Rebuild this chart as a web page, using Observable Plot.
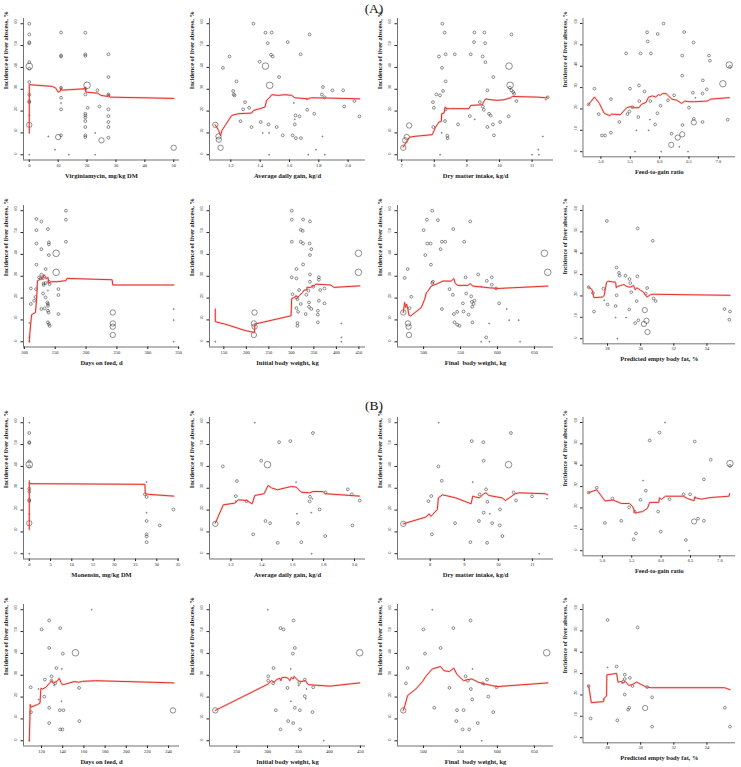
<!DOCTYPE html>
<html><head><meta charset="utf-8">
<script src="https://cdn.jsdelivr.net/npm/d3@7"></script>
<script src="https://cdn.jsdelivr.net/npm/@observablehq/plot@0.6"></script>
<style>
html,body{margin:0;padding:0;background:#fff;overflow:hidden;}
#wrap{position:relative;width:741px;height:767px;font-family:"Liberation Serif",serif;color:#111;}
.hdr{position:absolute;width:100px;text-align:center;font-size:13.5px;line-height:1;}
.panel{position:absolute;}
</style></head><body><div id="wrap">
<div class="hdr" style="left:324px;top:2px">(A)</div>
<div class="hdr" style="left:324px;top:399px">(B)</div>
</div>
<script>
// ---------- shared ----------
const yTicks = [0, 10, 20, 30, 40, 50, 60];
const yLabel = "Incidence of liver abscess, %";
const sectionLabels = ["(A)", "(B)"];

// ---------- x labels ----------
const xLabelsA = ["Virginiamycin, mg/kg DM", "Average daily gain, kg/d", "Dry matter intake, kg/d", "Feed-to-gain ratio",
  "Days on feed, d", "Initial body weight, kg", "Final  body weight, kg", "Predicted empty body fat, %"];
const xLabelsB = ["Monensin, mg/kg DM", "Average daily gain, kg/d", "Dry matter intake, kg/d", "Feed-to-gain ratio",
  "Days on feed, d", "Initial body weight, kg", "Final  body weight, kg", "Predicted empty body fat, %"];

// ---------- x tick values ----------
const vmTicks = [0, 10, 20, 30, 40, 50];
const monTicks = [0, 5, 10, 15, 20, 25, 30, 35];
const adgTicks = [1.2, 1.4, 1.6, 1.8, 2.0];
const dmiTicksA = [7, 8, 9, 10, 11];
const dmiTicksB = [8, 9, 10, 11];
const fgTicks = [5.0, 5.5, 6.0, 6.5, 7.0];
const dofTicksA = [100, 150, 200, 250, 300, 350];
const dofTicksB = [120, 140, 160, 180, 200, 220, 240];
const ibwTicksA = [150, 200, 250, 300, 350, 400, 450];
const ibwTicksB = [250, 300, 350, 400, 450];
const fbwTicks = [500, 550, 600, 650];
const ebfTicks = [28, 30, 32, 34];

// ---------- (A) points [x, incidence %, study weight] and fitted lines [x, incidence %] ----------
const vmA = [[0,60,110],[0,55.1,110],[0,51.5,110],[0,51,110],[0,42.4,110],[0,40.5,600],[0,39.4,110],[0,33.3,110],[0,27.5,110],[0,24.5,110],[0,24.1,110],[0,18,15],[0,13.7,400],[0,10,15],[0,0,15],
[6.6,8.4,15],[8.9,2.3,15],[10,8.1,400],[11,56,110],[11,45.5,110],[11,45,110],[11,30.7,110],[11,26.1,110],[11,23.7,15],[11,20.8,110],[11,8.9,110],[13.7,0,15],
[19.4,55.9,110],[19.4,46,110],[19.4,45.3,110],[19.4,30.2,110],[19.4,27.6,110],[19.4,18.8,110],[19.4,18,110],[19.4,17,110],[19.4,15.4,110],[19.4,12.7,110],[19.4,8.9,110],[19.4,8.1,110],[20,31.8,600],[20.2,21.5,110],[22.8,10,15],[22.8,0,15],[23.6,29.5,110],[24.3,22.1,110],[25,6.6,400],
[27.4,46,110],[27.4,35.6,110],[27.4,27.6,110],[27.4,27.2,110],[27.4,20.8,110],[27.4,17.7,110],[27.4,15,110],[27.4,12.7,110],[27.4,7.8,110],[50,3.2,400]];
const vmALine = [[0,10.4],[0,32.1],[8,31.3],[9.2,30.5],[10,28.7],[10.7,29],[11,30.8],[11.2,29.6],[19,30.2],[19.4,31],[19.6,28.7],[23.6,28.2],[24.8,27.2],[27.1,26.7],[27.4,27.5],[27.9,26.4],[50,25.8]];

const adgA = [[1.354,60,110],[1.436,55.9,110],[1.479,56,110],[1.452,51.1,110],[1.588,51.6,110],[1.737,55.1,110],[1.191,45,110],[1.397,42.6,110],[1.474,45.8,110],[1.486,45,110],[1.676,46,110],[1.146,39.8,110],[1.436,40.6,600],[1.465,31.8,600],[1.529,35.6,110],[1.239,33.6,110],[1.216,29.2,110],[1.22,27.6,110],[1.225,27.2,110],[1.297,24.1,110],[1.284,20.8,110],[1.325,21.5,110],[1.266,15.4,110],[1.404,15,110],[1.341,12.7,110],[1.457,13.9,110],[1.513,12.7,110],[1.554,8.9,110],[1.418,10,15],[1.461,10,15],[1.461,0,15],[1.094,13.7,400],[1.116,8.4,400],[1.118,6.9,400],[1.13,3.2,400],[1.63,23.7,15],[1.641,18,110],[1.636,16.2,15],[1.636,13.9,110],[1.669,17.6,110],[1.622,8.9,110],[1.644,7.6,110],[1.678,7.6,110],[1.719,25.3,15],[1.721,20.6,110],[1.769,18.8,110],[1.728,0,15],[1.78,2.3,15],[1.821,27.6,110],[1.828,31,110],[1.839,26.3,110],[1.825,8.4,15],[1.841,0,15],[1.893,29.5,110],[1.966,29.5,110],[1.973,22.1,110],[2.043,24.6,110],[2.077,17.6,110]];
const adgALine = [[1.094,13.7],[1.117,11.1],[1.13,8.7],[1.139,11.1],[1.161,13.4],[1.206,18],[1.252,18.8],[1.342,19.1],[1.354,20.3],[1.399,21.1],[1.433,21.9],[1.444,24.9],[1.467,26.4],[1.479,27.5],[1.524,27.2],[1.569,27.5],[1.615,27.2],[1.637,26.1],[1.728,25.6],[1.75,26.1],[1.843,26],[2.079,25.6]];

const dmiA = [[8.248,60,110],[8.32,55.9,110],[9.23,56,110],[9.537,56,110],[9.22,51.6,110],[9.56,51.1,110],[10.366,55.1,110],[8.146,45,110],[8.35,46,110],[8.627,46,110],[9.118,46,110],[9.486,45,110],[9.568,42.4,110],[8.238,39.8,110],[10.294,40.6,600],[8.35,33.6,110],[9.813,35.6,110],[10.325,31.8,600],[10.32,30.7,110],[10.366,29.5,110],[10.42,28.7,110],[10.45,27.9,110],[8.269,29.2,110],[8.064,27.6,110],[8.176,27.2,110],[9.63,29.5,110],[7.96,24.1,110],[7.99,21.5,110],[8.35,20.8,110],[8.33,15.4,110],[7.97,12.7,110],[8.4,8.7,110],[8.41,7.6,110],[8.23,10,15],[8.18,0,15],[8.73,13.9,110],[9.09,17.7,110],[9.24,16.2,15],[9.49,22.1,110],[9.52,20.6,110],[9.4,24.1,110],[9.63,12.7,110],[9.68,18.8,110],[9.73,18,110],[9.8,13.9,110],[9.83,8.9,110],[10.02,15,110],[10.28,17.6,110],[10.52,24.6,110],[11,0,15],[11.21,0,15],[11.19,2.3,15],[11.33,8.4,15],[11.42,25.2,15],[11.48,26.3,110],[7.05,3.2,400],[7.11,6.6,400],[7.16,8.1,400],[7.23,13.4,400]];
const dmiALine = [[7.05,3.5],[7.174,6.6],[7.225,7.8],[7.256,8.1],[7.379,8.4],[7.941,9.2],[8.043,12.7],[8.146,15],[8.217,15.3],[8.228,18.8],[8.299,19.1],[8.34,21.9],[8.371,21.1],[8.504,21.1],[9.067,21.1],[9.118,22.6],[9.476,22.9],[9.506,24.1],[9.578,25.6],[9.68,25.3],[9.936,24.9],[10.14,25.2],[10.345,26.1],[10.396,26.7],[11.16,26.4],[11.42,26.1],[11.47,26.4]];

const fgA = [[6.066,60,110],[5.786,55.9,110],[6.418,56,110],[5.967,55.1,110],[5.797,51.6,110],[6.577,51.1,110],[5.429,46,110],[5.676,46,110],[5.852,46,110],[6.385,45,110],[6.841,45,110],[6.857,42.6,110],[7.187,40.6,600],[7.198,39.7,110],[6.385,35.6,110],[6.736,33.4,110],[7.077,31.8,600],[6.802,29.2,110],[4.89,29.5,110],[5.495,29.5,110],[5.648,31,110],[5.742,28.2,110],[6.566,27.6,110],[6.731,27.2,110],[5.17,24.6,110],[4.791,22.1,110],[5.654,23.7,110],[5.841,23.7,110],[5.538,20.8,110],[6.016,21.5,110],[6.143,24.1,110],[6.247,26.4,110],[6.61,25.2,15],[6.5,20.6,110],[4.962,17.6,110],[5.451,17.6,110],[5.484,18.8,110],[5.637,16.2,110],[5.962,18,110],[5.313,13.9,110],[6.582,15.4,110],[6.582,13.7,400],[6.731,13.9,110],[7.159,15,110],[5.835,15,15],[5.923,12.7,110],[6.39,12.5,110],[5.604,10,15],[5.813,10,15],[5.016,7.6,110],[5.071,7.6,110],[5.17,8.9,110],[6.203,8.4,110],[6.308,6.6,400],[6.385,8.1,400],[6.198,3.2,400],[6.335,2.3,15],[5.582,0,15],[6.027,0,15],[6.484,0,15]];
const fgALine = [[4.791,22.1],[4.89,25.6],[4.973,22.6],[5.055,18],[5.154,16.8],[5.176,17.6],[5.33,17.3],[5.44,20.6],[5.505,21.1],[5.577,20.6],[5.648,20.6],[5.687,22.1],[5.769,23.1],[5.813,25.6],[5.879,26.1],[5.934,25.6],[5.978,26.7],[6.016,26.4],[6.044,27.2],[6.11,27.2],[6.154,26],[6.209,24.6],[6.291,24.1],[6.374,22.6],[6.429,23.7],[6.511,23.4],[6.593,23.4],[6.813,23.7],[6.868,24.6],[7.143,25.2],[7.187,25.3]];

const dofA = [[167.4,60,110],[167.4,55.9,110],[119.6,56.2,110],[127.6,55.1,110],[119.6,51.1,110],[138.2,51.6,110],[119.6,45,110],[139.8,45.5,110],[139.8,44.6,110],[167.4,45.8,110],[127.6,42.4,110],[139.8,39.7,110],[151.5,40.5,600],[119.6,35.3,110],[134.5,33.3,110],[151.5,31.8,600],[123.9,29.5,110],[126.5,29,110],[127.6,30.7,110],[130.3,29.2,110],[110.6,24.4,110],[119.1,24.1,110],[131.3,26.7,110],[131.3,26,110],[134.5,26.9,110],[139.8,27.5,110],[140.9,26.4,110],[130.3,22.1,110],[118,20.5,110],[110.6,17.3,110],[115.9,18.8,110],[134.5,20.3,110],[138.2,23.4,15],[155.2,24.1,110],[155.2,21.4,110],[127.6,15,110],[132.9,15.3,110],[137.2,18,110],[138.2,17.3,110],[138.2,16.5,110],[138.2,14.2,110],[139.3,13.4,110],[155.2,12.7,110],[138.2,8.9,110],[139.8,8.1,110],[140.9,7.3,110],[108,8.6,15],[108,2,15],[108,0,15],[243.3,13.4,400],[243.3,8.4,400],[243.3,6.9,400],[243.3,3.1,400],[342,15,15],[342,9.9,15],[342,0,15]];
const dofALine = [[108,0],[109,4.3],[111.8,12.4],[118.1,13.4],[120.2,21],[121.2,27.9],[126.5,28.7],[130.3,29.2],[131.8,30.7],[134.5,29.8],[135.5,28.7],[138.2,29.5],[139.8,26.9],[143.5,27.5],[154.1,27.5],[167.4,28],[169,29],[242.2,28.4],[243.3,26],[342,26]];

const ibwA = [[301,60,110],[301,55.9,110],[326,56,110],[341.3,55.1,110],[320.8,51.3,110],[325.2,50.8,110],[301,45.8,110],[320.8,45.8,110],[326,45,110],[340.6,45,110],[344.3,42.4,110],[341.3,39.7,110],[326,35.4,110],[311.3,33.3,110],[341.3,30.8,110],[301,29.5,110],[311.3,29,110],[341.3,27.5,110],[361.1,29.5,110],[361.1,28.4,110],[364.1,23.7,110],[373.6,24.4,110],[302.5,21.8,110],[311.3,20.3,110],[313.5,19.5,110],[320.8,17.3,110],[317.2,23.7,110],[333.3,21.5,110],[337.7,23.4,110],[339.2,18,110],[339.2,16,110],[344.3,15,110],[311.3,15.4,110],[315,13.7,110],[331.8,12.7,110],[358.8,14.2,110],[358.8,12.4,110],[361.1,18.8,110],[373.6,17.6,110],[358.8,8.9,110],[313.5,8.6,110],[313.5,7.3,110],[346.5,25.6,15],[348.7,25.2,110],[218.2,13.4,400],[216.7,8.4,400],[218.2,6.9,400],[216.7,3.1,400],[131,0,15],[449,40.5,600],[449,31.8,600],[411,8.4,15],[411,2,15],[411,0,15]];
const ibwALine = [[131,15],[131,9.2],[152.2,8.1],[199.9,5],[218.2,4.3],[218.9,8.1],[299.3,11.9],[300.7,19.8],[306.6,20.3],[310.3,21.1],[313.9,20.3],[317.6,21.1],[324.9,22.6],[328.6,23.7],[334.5,23.7],[334.5,24.9],[343.3,24.9],[347,25.6],[350.6,25.6],[354.3,26.4],[387.3,26],[394.6,24.9],[451.8,25.6]];

const fbwA = [[511.7,60,110],[504.5,55.9,110],[519.4,55.7,110],[563.1,55.1,110],[500,51.1,110],[540.1,51.6,110],[505,45,110],[509.5,45,110],[524.8,45.8,110],[529.3,45.8,110],[523,42.4,110],[555,45.8,110],[502.3,39.7,110],[509.9,35.3,110],[478.4,33.3,110],[474.3,29.2,110],[512.6,27.5,110],[511.7,26.9,110],[573.9,30.8,110],[556.8,29.5,110],[592.3,29.5,110],[585.6,27.9,110],[592.3,26.1,110],[598.2,24.4,110],[535.1,24.1,110],[539.6,21.5,110],[557.7,22.1,110],[564.4,20.8,110],[565.3,18.3,110],[483.3,20.6,110],[567.6,17.3,110],[565.8,16,110],[568.9,18.8,110],[553.2,17.6,110],[602.3,17.6,110],[481.1,15.4,110],[524.8,15,110],[545.5,13.7,110],[541,12.7,110],[554.1,13.9,110],[560.8,12.4,110],[541.9,8.9,110],[545.5,7.8,110],[548.6,7.3,110],[566.2,8.9,110],[612.6,15,15],[615.8,9.9,15],[628.8,9.9,15],[588.7,8.4,15],[584.7,2,110],[577.9,0,15],[589.2,0,15],[630.6,0,15],[472.5,13.4,400],[478.8,8.4,400],[479.7,6.9,400],[480.2,3.1,400],[663.5,40.5,600],[668,31.8,600],[577.9,25.2,15]];
const fbwALine = [[472.5,13.4],[474.3,18],[475.7,15.7],[477,17.3],[478.8,14.8],[480.2,12.1],[482.4,11.8],[496.8,15.6],[501.4,19.4],[503.6,22.4],[505.9,23.2],[510.4,25.5],[519.4,26.7],[526.1,27.8],[537.4,27.8],[541,28.9],[542.8,26.7],[546.4,25.8],[559.9,25.8],[563.1,26.6],[566.7,25.5],[589.2,24.7],[600.5,24.4],[668,25.5]];

const ebfA = [[27.96,55.1,110],[29.82,51.6,110],[30.73,45.8,110],[28.55,33.3,110],[28.69,30.8,110],[28.73,29.5,110],[29.08,29.5,110],[29.8,29.2,110],[29.33,27.9,110],[29.37,26,110],[29.43,21.8,110],[26.86,24.1,110],[27.12,21.4,110],[27.75,23.4,110],[27.8,18,15],[28.55,20.3,110],[27.18,12.7,110],[28,16,110],[28.49,15.3,110],[29.31,13.7,110],[29.76,17.6,110],[30.39,23.7,110],[30.31,21.1,110],[30.78,18.8,110],[30.9,17.6,110],[28.49,9.9,15],[29.12,9.9,15],[28.59,0,15],[29.67,7.3,110],[29.86,8.6,110],[30.25,13.4,400],[30.35,8.4,400],[30.2,6.9,400],[30.41,3.1,400],[35.06,13.9,110],[35.39,12.7,110],[35.35,8.9,110]];
const ebfALine = [[26.86,24.1],[27.06,23],[27.12,21.1],[27.18,19.2],[27.71,19.5],[27.8,20.3],[27.94,26.4],[28.04,26.9],[28.49,26.4],[28.53,23.8],[28.59,24.4],[28.78,24.9],[28.98,25.3],[29.18,24.4],[29.37,24.1],[29.57,24.9],[29.67,22.9],[29.76,23.8],[29.86,23.4],[30,22.6],[30.16,21.8],[30.39,19.5],[30.59,20.6],[30.75,20.8],[35.39,20.3]];

// ---------- (B) ----------
const monB = [[0,60,15],[0,55.3,110],[0,51.1,110],[0,50.7,110],[0,42.3,110],[0,40.8,600],[0,40,110],[0,33.3,15],[0,29.8,110],[0,28.5,110],[0,24.7,110],[0,24.1,110],[0,18.3,15],[0,14,400],[0,0,15],[27.2,27.2,110],[27.6,32.8,15],[27.6,26,110],[27.6,18.8,15],[27.6,15,110],[27.6,8.9,110],[27.6,7.9,110],[27.6,5.3,110],[30.7,13,110],[33.9,20.3,110]];
const monBLine = [[0,11.1],[0,32.8],[0.15,32.1],[27.2,31.8],[27.3,27.5],[28.1,27.2],[33.98,26.4]];

const adgB = [[1.355,60,15],[1.731,55.3,110],[1.512,51.1,110],[1.585,51.6,110],[1.396,42.6,110],[1.437,40.8,600],[1.148,40,110],[1.239,33.3,110],[1.622,32.8,15],[1.232,26.4,110],[1.232,24.1,15],[1.301,24.1,110],[1.712,26.1,110],[1.71,24,110],[1.727,25.2,15],[1.813,28.1,110],[1.983,27.2,110],[1.957,29.5,110],[2.034,24.4,110],[1.628,18.3,15],[1.72,18.8,15],[1.774,20.3,110],[1.424,15,110],[1.454,14,110],[1.634,14,110],[1.344,8.9,110],[1.503,5,110],[1.656,5.3,110],[1.811,8.1,110],[1.987,13,110],[1.723,0,15],[1.099,13.7,400]];
const adgBLine = [[1.099,14],[1.151,22.4],[1.226,23.2],[1.248,24.7],[1.301,24.4],[1.338,22.9],[1.355,26.7],[1.415,27.5],[1.441,31.3],[1.462,30.2],[1.501,29.3],[1.548,30.1],[1.591,30.8],[1.624,30.5],[1.656,28.2],[1.71,27.9],[1.731,28.5],[1.796,28.5],[1.811,27.5],[2.032,26.4]];

const dmiB = [[8.25,60,15],[9.22,51.6,110],[9.56,51.1,110],[10.37,55.3,110],[9.57,42.6,110],[8.24,40,110],[10.3,40.8,600],[8.34,33.4,110],[9.25,32.8,15],[9.64,29.5,110],[9.45,27.2,110],[10.45,28.1,110],[8.03,26.4,110],[7.95,24.1,110],[9.68,23.8,110],[10.52,24.4,110],[10.99,26.3,110],[11.43,25.2,15],[9.57,18.8,110],[9.75,18.3,15],[10.05,20.3,110],[8.73,14,110],[9.43,15,110],[9.82,14,110],[10.04,13,110],[8.05,8.9,110],[10.12,8.1,110],[9.18,5.3,110],[9.67,5,110],[11.2,0,15],[7.21,13.7,400]];
const dmiBLine = [[7.21,13.7],[7.87,16.8],[7.97,18.3],[8.02,17.1],[8.07,17.9],[8.21,20.3],[8.24,25.6],[8.36,27],[8.75,25.6],[9.2,22.9],[9.25,26.4],[9.33,26],[9.45,25.6],[9.57,27.5],[9.64,27.9],[9.72,26.7],[10.11,25.6],[10.21,24.4],[10.5,27.5],[10.6,27.9],[11.38,27.5],[11.45,27]];

const fgB = [[6.067,60,15],[5.972,55.3,110],[5.806,51.6,110],[6.572,51.1,110],[6.844,42.6,110],[7.172,40.8,600],[7.172,39.7,110],[6.728,33.4,110],[5.694,32.8,15],[4.906,29.5,110],[4.767,27.2,110],[5.739,28.1,110],[5.172,24.4,110],[5.65,23.8,110],[6.144,24.1,110],[6.383,26.4,110],[6.494,26.4,110],[6.583,24.7,15],[5.456,20.3,110],[5.55,18.3,110],[5.95,18.3,110],[5.044,13,110],[5.322,14,110],[6.561,13.7,400],[6.628,15,110],[6.728,14,110],[5.572,8.1,110],[5.994,8.9,110],[5.533,5.3,110],[6.422,5,110],[6.478,0,15]];
const fgBLine = [[4.767,27.2],[4.906,28.5],[5.044,23.3],[5.183,23.7],[5.322,22.1],[5.461,22.1],[5.517,20.6],[5.561,17.6],[5.6,17.9],[5.683,18.3],[5.767,19.8],[5.806,22.6],[5.961,22.6],[5.972,24.7],[6.006,24],[6.072,25.5],[6.378,25.5],[6.45,24.4],[6.561,23.4],[6.572,25.2],[6.6,24.7],[6.683,24.1],[6.739,24.4],[6.85,24.9],[7.156,25.5],[7.167,26.7]];

const dofB = [[167.3,60,15],[127.2,55.1,110],[120,51,110],[137.6,51.6,110],[127.2,42.5,110],[140.1,39.9,110],[152,40.3,600],[134.1,33.3,110],[139.1,32.9,15],[129.4,29.5,110],[129.4,27.5,110],[123.1,28,110],[132.9,26.3,110],[131.9,25.4,15],[109.7,24.5,110],[117.2,23.7,15],[155.4,24.2,110],[122.5,20.2,110],[117.2,18.9,15],[138.8,18.1,15],[110,13.1,110],[127.2,15.1,110],[137.2,14,110],[140.7,14,110],[155.7,9,110],[127.2,8.1,110],[137.6,5.2,110],[139.7,5.2,110],[108.4,0,15],[244.1,13.9,400]];
const dofBLine = [[108.4,0],[109.3,16.6],[110,15.4],[116.3,16.6],[118.5,17.2],[119.4,24],[121,23.7],[124.1,24.5],[128.2,26.8],[129.7,27.5],[131,26.3],[132.9,26.8],[135.1,27.5],[136.6,28.6],[138.2,26.8],[139.7,25.7],[142.9,26],[150.7,27.1],[155.4,26.8],[158.6,27.2],[171.1,27.5],[244.8,26.5]];

const ibwB = [[300.5,60,15],[341.9,55.1,110],[321,51.6,110],[325.8,51,110],[344.1,42.5,110],[340.9,39.9,110],[448.9,40.3,600],[301.1,29.5,110],[301.1,27.5,110],[309.7,33.3,110],[337.6,32.9,15],[309.1,26.3,110],[360.2,28,110],[351.1,26.5,110],[350.5,25.3,15],[332.3,24.2,110],[362.9,23.7,15],[373.7,24.5,110],[360.2,20.4,110],[361.8,19.2,15],[337.6,18.1,15],[313.4,14,110],[344.1,15.1,110],[352.2,14,110],[372.6,13.1,110],[333.3,9,110],[341.4,8.1,110],[321,5.2,110],[352.7,5.2,110],[390.9,0,15],[215.6,13.9,400]];
const ibwBLine = [[215.6,13.9],[301.1,26],[306.5,27.5],[310.8,26.8],[314.5,28],[319.9,28.6],[321.5,27.5],[322.6,28.8],[328,29.1],[333.3,28.6],[336,27.5],[338.7,29.1],[341.4,28.3],[343,29.5],[344.1,29.1],[349.5,27.5],[353.8,27.1],[361.3,27.5],[365.6,25.7],[400.5,25],[448.9,26.5]];

const fbwB = [[512,60,15],[563.7,55.1,110],[500,51,110],[540.5,51.6,110],[523.2,42.5,110],[502.2,39.9,110],[666.6,40.3,600],[478.6,33.3,110],[566.4,32.9,15],[557,29.5,110],[586,28,110],[476.4,26.3,110],[560.1,27.5,110],[580.2,26.3,110],[582,25.6,15],[535.2,24.2,110],[564.1,23.7,110],[598.9,24.5,110],[587.8,20.2,110],[565.9,18.9,110],[514.7,15.1,110],[545.4,14,110],[554.3,14,110],[594.4,13.1,110],[544.5,9,110],[573.5,8.1,110],[553,5.2,110],[561.9,5.2,110],[578.8,0,15],[472.8,13.9,400]];
const fbwBLine = [[472.8,13.9],[475,16.1],[478.6,20.7],[489.8,23.7],[498.7,27.1],[503.1,29.4],[512,32.9],[523.2,34],[527.6,32.1],[535.2,31.7],[541,33.3],[545.4,30.3],[554.3,27.5],[558.8,27.9],[565.5,28.3],[574.4,26.8],[583.3,26],[592.3,25.3],[599.8,24.8],[668,26.5]];

const ebfB = [[28,55.1,110],[29.82,51.6,110],[28,32.9,15],[28.55,33.3,110],[29.04,29.5,110],[29.35,28,110],[29.04,27.5,110],[28.94,26.3,110],[28.88,25.6,15],[26.86,24.2,110],[29.51,24.2,110],[30.39,23.7,110],[29.04,20.2,110],[30.69,18.9,110],[27.76,18.1,15],[29.31,14,110],[29.24,13.1,110],[30.27,13.9,400],[26.98,9,110],[28.59,8.1,110],[30.69,5.2,110],[35.08,14,110],[35.39,5.2,110]];
const ebfBLine = [[26.86,24.2],[26.92,21.5],[27.02,16.4],[27.76,16.9],[27.8,18.4],[27.94,19.6],[27.96,29.4],[28.55,30.1],[28.63,26],[28.82,26.3],[28.94,25.7],[29.08,26.3],[29.27,24.5],[29.47,24.8],[29.76,26],[30.06,24.8],[30.35,23.7],[30.65,23.4],[35.06,23.4],[35.39,22.5]];

// ---------- assemble ----------
const f1 = d3.format(".1f"), f0 = d3.format("d");
const panelsA = [
  {pts: vmA, line: vmALine, ticks: vmTicks, fmt: f0},
  {pts: adgA, line: adgALine, ticks: adgTicks, fmt: f1},
  {pts: dmiA, line: dmiALine, ticks: dmiTicksA, fmt: f0},
  {pts: fgA, line: fgALine, ticks: fgTicks, fmt: f1},
  {pts: dofA, line: dofALine, ticks: dofTicksA, fmt: f0},
  {pts: ibwA, line: ibwALine, ticks: ibwTicksA, fmt: f0},
  {pts: fbwA, line: fbwALine, ticks: fbwTicks, fmt: f0},
  {pts: ebfA, line: ebfALine, ticks: ebfTicks, fmt: f0}
].map((p, i) => ({...p, label: xLabelsA[i]}));
const panelsB = [
  {pts: monB, line: monBLine, ticks: monTicks, fmt: f0},
  {pts: adgB, line: adgBLine, ticks: adgTicks, fmt: f1},
  {pts: dmiB, line: dmiBLine, ticks: dmiTicksB, fmt: f0},
  {pts: fgB, line: fgBLine, ticks: fgTicks, fmt: f1},
  {pts: dofB, line: dofBLine, ticks: dofTicksB, fmt: f0},
  {pts: ibwB, line: ibwBLine, ticks: ibwTicksB, fmt: f0},
  {pts: fbwB, line: fbwBLine, ticks: fbwTicks, fmt: f0},
  {pts: ebfB, line: ebfBLine, ticks: ebfTicks, fmt: f0}
].map((p, i) => ({...p, label: xLabelsB[i]}));

const yDomain = [-2.4, 62.4];
function makePanel(p) {
  const xs = p.pts.map(d => d[0]).concat(p.line.map(d => d[0]));
  const [lo, hi] = d3.extent(xs);
  const pad = (hi - lo) * 0.04;
  const dom = [lo - pad, hi + pad];
  const ticks = p.ticks.filter(t => t >= dom[0] && t <= dom[1]);
  return Plot.plot({
    width: 185, height: 171,
    marginLeft: 23, marginRight: 6, marginTop: 5, marginBottom: 24.5,
    style: {fontFamily: "'Liberation Serif', serif", background: "transparent", color: "#222", overflow: "visible"},
    x: {domain: dom},
    y: {domain: yDomain},
    r: {type: "sqrt", domain: [0, 600], range: [0, 3.3]},
    marks: [
      Plot.ruleX([dom[0]], {stroke: "#333", strokeWidth: 0.7}),
      Plot.ruleY([yDomain[0]], {stroke: "#333", strokeWidth: 0.7}),
      Plot.axisX({ticks, tickSize: 2.5, tickPadding: 1, fontSize: 4.5, tickFormat: p.fmt, label: null}),
      Plot.axisY({ticks: yTicks, tickSize: 2.5, tickFormat: () => "", label: null}),
      Plot.text(yTicks, {frameAnchor: "left", y: d => d, text: d => String(d), rotate: -90, dx: -8, fontSize: 4.5}),
      Plot.dot(p.pts, {x: d => d[0], y: d => d[1], r: d => d[2], stroke: "#333", strokeWidth: 0.55, fill: "none"}),
      Plot.line(p.line, {x: d => d[0], y: d => d[1], stroke: "#f08a82", strokeWidth: 2.2, strokeOpacity: 0.35}),
      Plot.line(p.line, {x: d => d[0], y: d => d[1], stroke: "#e3302a", strokeWidth: 1}),
      Plot.text([p.label], {frameAnchor: "bottom", dy: 17.5, fontWeight: "bold", fontSize: 6.5}),
      Plot.text([yLabel], {frameAnchor: "left", rotate: -90, dx: -18, fontWeight: "bold", fontSize: 6.4})
    ]
  });
}

const lefts = [0, 186, 374, 560];
const tops = [12.8, 199.8, 411.8, 598.8];
const wrap = document.getElementById("wrap");
[...panelsA, ...panelsB].forEach((p, i) => {
  const div = document.createElement("div");
  div.className = "panel";
  div.style.left = lefts[i % 4] + "px";
  div.style.top = tops[Math.floor(i / 4)] + "px";
  div.appendChild(makePanel(p));
  wrap.appendChild(div);
});
</script>
</body></html>
